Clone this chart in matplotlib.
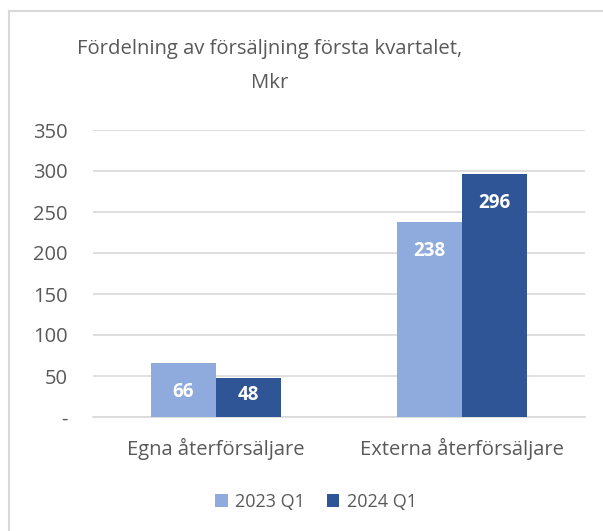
import matplotlib
matplotlib.use("Agg")
import matplotlib.pyplot as plt
from matplotlib.lines import Line2D
import numpy as np

categories = ["Egna återförsäljare", "Externa återförsäljare"]
series_names = ["2023 Q1", "2024 Q1"]
values_2023 = [66, 238]
values_2024 = [48, 296]
yticks = [0, 50, 100, 150, 200, 250, 300, 350]
ytick_labels = ["-", "50", "100", "150", "200", "250", "300", "350"]
title = "Fördelning av försäljning första kvartalet,\nMkr"

colors = ["#8FAADC", "#2F5597"]
text_color = "#595959"
grid_color = "#D9D9D9"

plt.rcParams['font.family'] = ['Open Sans', 'DejaVu Sans']

W, H = 603, 531
fig = plt.figure(figsize=(W / 100, H / 100), dpi=100)
fig.patch.set_facecolor("white")

# chart border (only top and left visible in the crop)
fig.add_artist(Line2D([9 / W, 9 / W], [0, 1 - 11 / H], transform=fig.transFigure,
                      color="#D9D9D9", linewidth=1.5))
fig.add_artist(Line2D([9 / W, 1], [1 - 11 / H, 1 - 11 / H], transform=fig.transFigure,
                      color="#D9D9D9", linewidth=1.5))

ax = fig.add_axes([93 / W, 1 - 417 / H, (585 - 93) / W, (417 - 130) / H])
x = np.arange(len(categories))
bw = 0.264
series = [values_2023, values_2024]
for i, (vals, c, name) in enumerate(zip(series, colors, series_names)):
    offs = (i - 0.5) * bw
    bars = ax.bar(x + offs, vals, width=bw, color=c, label=name, zorder=3)
    for b, v in zip(bars, vals):
        hpx = v * (287 / 350)
        off = -(29 if hpx > 50 else hpx * 0.45)
        ax.annotate(str(v), (b.get_x() + b.get_width() / 2, v),
                    xytext=(0, off * 0.72), textcoords="offset points",
                    ha="center", va="center", color="white",
                    fontsize=13.5, fontweight="bold", zorder=4)

ax.set_xlim(-0.5, 1.5)
ax.set_ylim(0, 350)
ax.set_yticks(yticks)
ax.set_yticklabels(ytick_labels)
ax.set_xticks(x)
ax.set_xticklabels(categories)
ax.yaxis.grid(True, color=grid_color, linewidth=1.2, zorder=0)
ax.set_axisbelow(True)
for s in ["top", "right", "left"]:
    ax.spines[s].set_visible(False)
ax.spines["bottom"].set_color(grid_color)
ax.spines["bottom"].set_linewidth(1.2)
ax.tick_params(axis="both", length=0, colors=text_color, labelsize=14.5)
ax.tick_params(axis="y", pad=18)
ax.tick_params(axis="x", pad=15)

fig.text(270 / W, 1 - 66 / H, title, ha="center", va="center",
         fontsize=14.6, color=text_color, linespacing=1.9)

leg = fig.legend(loc="center", bbox_to_anchor=(316 / W, 1 - 502 / H),
                 ncol=2, frameon=False, fontsize=13, handlelength=0.7,
                 handleheight=0.7, handletextpad=0.4, columnspacing=1.2)
for t in leg.get_texts():
    t.set_color(text_color)

fig.savefig("out.png", dpi=100, facecolor="white")
